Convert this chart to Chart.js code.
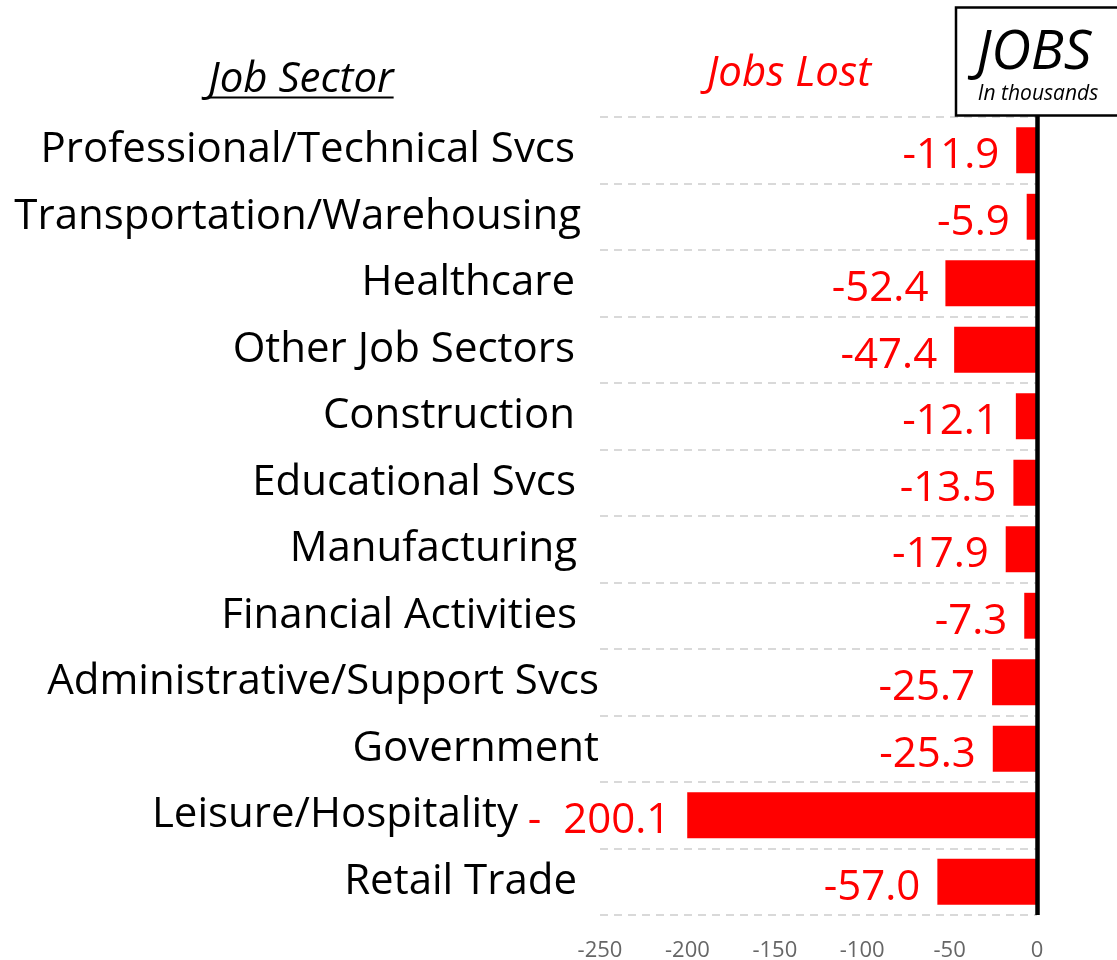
<!DOCTYPE html>
<html>
<head>
<meta charset="utf-8">
<script src="https://cdn.jsdelivr.net/npm/chart.js@4.4.1/dist/chart.umd.min.js"></script>
<style>
  html, body { margin: 0; padding: 0; background: #ffffff; }
  #c { display: block; }
</style>
</head>
<body>
<canvas id="c" width="1117" height="960"></canvas>
<script>
// ---- data ----
const categories = [
  "Professional/Technical Svcs",
  "Transportation/Warehousing",
  "Healthcare",
  "Other Job Sectors",
  "Construction",
  "Educational Svcs",
  "Manufacturing",
  "Financial Activities",
  "Administrative/Support Svcs",
  "Government",
  "Leisure/Hospitality",
  "Retail Trade"
];
const jobsLost = [-11.9, -5.9, -52.4, -47.4, -12.1, -13.5, -17.9, -7.3, -25.7, -25.3, -200.1, -57.0];
const valueLabels = ["-11.9", "-5.9", "-52.4", "-47.4", "-12.1", "-13.5", "-17.9", "-7.3", "-25.7", "-25.3", "-  200.1", "-57.0"];
const xTicks = [-250, -200, -150, -100, -50, 0];
const titleLeft = "Job Sector";
const titleMid = "Jobs Lost";
const boxTitle = "JOBS";
const boxSub = "In thousands";

// ---- style (layout only) ----
const FONT = "'Open Sans', 'DejaVu Sans', sans-serif";
const RED = "#ff0000";
const labelRight = 577;
const labelShift = [-2, 4, -2, -2, -2, -1, 0, 0, 22, 22, -59, 0];

const decorPlugin = {
  id: 'decor',
  afterDatasetsDraw(chart) {
    const ctx = chart.ctx;
    const xs = chart.scales.x, ys = chart.scales.y;
    const meta = chart.getDatasetMeta(0);
    ctx.save();
    // value labels
    ctx.font = "42px " + FONT;
    ctx.fillStyle = RED;
    ctx.textAlign = 'right';
    ctx.textBaseline = 'alphabetic';
    meta.data.forEach((bar, i) => {
      ctx.fillText(valueLabels[i], bar.x - 17, bar.y + 18);
    });
    // category labels
    ctx.fillStyle = '#000';
    categories.forEach((c, i) => {
      const y = ys.getPixelForTick(i);
      ctx.fillText(c, labelRight + labelShift[i], y + 12);
    });
    // zero axis line
    const x0 = xs.getPixelForValue(0) + 0.5;
    ctx.strokeStyle = '#000';
    ctx.lineWidth = 4.5;
    ctx.beginPath();
    ctx.moveTo(x0, 112);
    ctx.lineTo(x0, chart.chartArea.bottom);
    ctx.stroke();
    ctx.restore();
  },
  afterDraw(chart) {
    const ctx = chart.ctx;
    ctx.save();
    ctx.textAlign = 'center';
    ctx.textBaseline = 'alphabetic';
    // left header
    ctx.font = "italic 42px " + FONT;
    ctx.fillStyle = '#000';
    ctx.fillText(titleLeft, 301, 92);
    const w = ctx.measureText(titleLeft).width;
    ctx.strokeStyle = '#000';
    ctx.lineWidth = 2;
    ctx.beginPath();
    ctx.moveTo(301 - w / 2, 97.5);
    ctx.lineTo(301 + w / 2, 97.5);
    ctx.stroke();
    // middle header
    ctx.fillStyle = RED;
    ctx.fillText(titleMid, 789, 86);
    // box
    ctx.fillStyle = '#fff';
    ctx.fillRect(956, 7, 200, 108);
    ctx.strokeStyle = '#000';
    ctx.lineWidth = 2.5;
    ctx.strokeRect(956, 7.5, 200, 108);
    ctx.fillStyle = '#000';
    ctx.font = "italic 55px " + FONT;
    ctx.fillText(boxTitle, 1034, 69);
    ctx.font = "italic 21px " + FONT;
    ctx.fillText(boxSub, 1038, 100);
    ctx.restore();
  }
};

new Chart(document.getElementById('c'), {
  type: 'bar',
  data: {
    labels: categories,
    datasets: [{
      data: jobsLost,
      backgroundColor: RED,
      borderWidth: 0,
      barPercentage: 0.69,
      categoryPercentage: 1.0
    }]
  },
  options: {
    indexAxis: 'y',
    responsive: false,
    animation: false,
    devicePixelRatio: 1,
    layout: { padding: { left: 0, right: 80, top: 117, bottom: 0 } },
    plugins: { legend: { display: false }, tooltip: { enabled: false }, title: { display: false } },
    scales: {
      x: {
        type: 'linear',
        min: -250,
        max: 0,
        afterBuildTicks(scale) { scale.ticks = xTicks.map(v => ({ value: v })); },
        afterFit(scale) { scale.height = 45; },
        grid: { display: false, drawTicks: false },
        border: { display: false },
        ticks: { color: '#666', font: { family: FONT, size: 22 }, padding: 23, maxRotation: 0 }
      },
      y: {
        afterFit(scale) { scale.width = 600; },
        grid: { display: true, color: '#d9d9d9', lineWidth: 2, drawTicks: false, offset: true },
        border: { display: false, dash: [8, 6] },
        ticks: { display: false }
      }
    }
  },
  plugins: [decorPlugin]
});
</script>
</body>
</html>
